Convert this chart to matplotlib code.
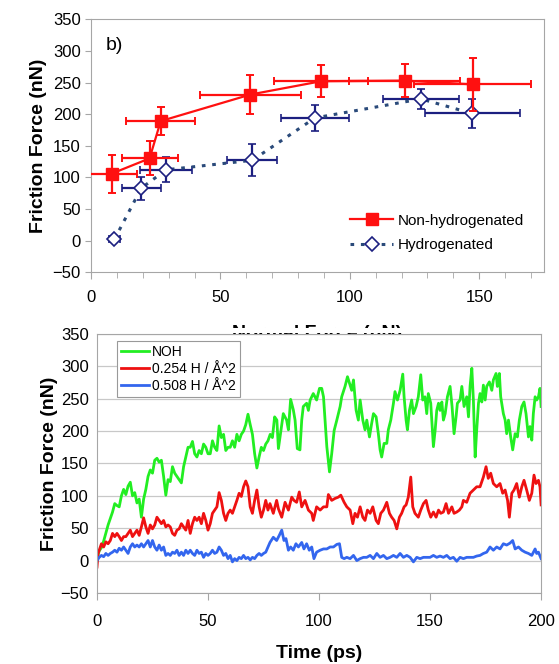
import matplotlib
matplotlib.use("Agg")
import matplotlib.pyplot as plt
from matplotlib.patches import Rectangle

plt.rcParams['font.family'] = ['Liberation Sans', 'DejaVu Sans']

# ---- top panel: friction vs normal force ----
nonh_x = [8.0, 22.6, 26.9, 61.6, 88.9, 121.2, 147.5]
nonh_y = [106, 130, 189, 231, 252, 253, 247]
nonh_xerr = [9.7, 10.8, 13.4, 19.7, 18.2, 21.5, 22.6]
nonh_yerr = [30, 27, 22, 31, 25, 26, 42]

hyd_x = [9.0, 19.4, 29.0, 62.3, 86.5, 127.5, 147.3]
hyd_y = [2, 83, 112, 127, 194, 224, 201]
hyd_xerr = [2.0, 7.5, 10.0, 9.7, 13.0, 14.5, 18.3]
hyd_yerr = [3, 18, 20, 25, 21, 16, 23]

# ---- bottom panel: friction vs time ----
t_noh = [0, 1, 2, 3, 5, 7, 8, 9, 10, 11, 12, 13, 14, 15, 16, 17, 18, 19, 20, 21,
         22, 23, 24, 25, 26, 27, 28, 29, 30, 31, 32, 33, 34, 35, 36, 37, 38, 39, 40,
         41, 42, 43, 44, 45, 46, 47, 48, 49, 50, 51, 52, 53, 54, 55, 56, 57, 58, 59,
         60, 61, 62, 63, 64, 65, 66, 67, 68, 69, 70, 71, 72, 73, 74, 75, 76, 77, 78,
         79, 80,
         81.0, 81.7, 83.9, 85.4, 86.2, 87.2, 88.4, 89.2, 90.2, 91.4, 92.2, 92.9,
         94.4, 95.2, 96.0, 97.4, 98.9, 100.2, 101.2, 102.0, 102.7, 103.5, 104.7,
         105.7, 106.8, 108.0, 109.5, 110.2, 111.7, 112.8, 113.7, 114.7, 115.5,
         116.7, 117.7, 118.5, 119.7, 120.7, 121.5, 122.7, 123.7, 124.5, 125.7,
         126.7, 127.5, 128.2, 129.3, 130.5, 131.2, 132.3, 133.5, 134.2, 135.3,
         136.5, 137.7, 138.3, 139.2, 139.8, 140.7, 141.7, 142.5, 143.7, 144.7,
         145.8, 146.7, 147.7, 148.5, 149.2, 150.3, 151.5, 152.3, 153.0, 153.8,
         154.5, 155.3, 156.0, 156.8, 157.8, 159.0, 159.9, 160.8, 161.7, 162.3,
         163.5, 164.3, 165.3, 166.5, 167.3, 168.0, 168.8, 169.5, 170.3, 171.0,
         171.8, 172.5, 173.3, 174.0, 174.8, 175.5, 176.7, 177.8, 178.5, 179.7,
         180.3, 181.2, 181.8, 183.0, 183.8, 184.5, 185.3, 186.3, 187.2, 188.3,
         189.3, 190.2, 191.3, 192.3, 193.2, 194.3, 195.0, 195.8, 196.5, 197.3,
         198.0, 198.8, 199.5, 200.0]
f_noh = [3, 15, 20, 30, 55, 75, 88, 85, 83, 100, 110, 102, 115, 121, 100, 105, 89, 95, 67, 95,
         110, 130, 140, 135, 155, 158, 152, 155, 130, 101, 125, 122, 145, 135, 130, 125, 120, 145, 160,
         175, 175, 184, 165, 160, 170, 165, 180, 175, 165, 165, 185, 175, 170, 208, 190, 195, 170, 175,
         175, 185, 175, 195, 185, 195, 200, 210, 226, 210, 195, 165, 143, 160, 175, 170, 180, 185, 195,
         190, 222,
         217, 173, 227, 217, 202, 249, 233, 217, 173, 171, 217, 238,
         243, 232, 248, 258, 248, 266, 266, 253, 217, 176, 137,
         165, 201, 217, 238, 253, 269, 284, 274, 263, 279,
         232, 217, 248, 217, 202, 217, 191, 212, 227, 222,
         196, 171, 160, 181, 181, 202, 217, 243, 261, 248,
         263, 288, 253, 217, 202, 232, 248, 227, 238, 253,
         287, 248, 253, 227, 258, 243, 176, 202, 232, 243,
         232, 245, 217, 227, 253, 269, 238, 196, 222, 243,
         248, 269, 238, 253, 222, 269, 297, 248, 160, 202,
         243, 258, 245, 271, 248, 269, 276, 263, 279, 289,
         269, 289, 253, 227, 217, 196, 217, 191, 171, 196,
         191, 217, 238, 245, 227, 191, 207, 186, 227, 253,
         248, 253, 266, 238]

t_h254 = [0, 0.5, 1, 2, 3, 4, 5, 6, 7, 8, 9, 10, 11, 12, 13, 14, 15, 16, 17, 18, 19, 20,
          21, 22, 23, 24, 25, 26, 27, 28, 29, 30, 31, 32, 33, 34, 35, 36, 37, 38, 39, 40,
          41, 42, 43, 44, 45, 46, 47, 48, 49, 50, 51, 52, 53, 54, 55, 56, 57, 58, 59, 60,
          61, 62, 63, 64, 65, 66, 67, 68, 69, 70, 71, 72, 73, 74, 75, 76, 77,
          77.9, 79.4, 80.9, 81.7, 83.2, 84.7, 86.2, 87.7, 88.7, 89.9, 91.1, 92.2,
          93.7, 95.2, 96.7, 97.4, 98.9, 100.5, 102.0, 103.5, 104.2, 105.7, 107.2,
          108.7, 109.8, 111.3, 112.5, 114.0, 115.2, 116.2, 117.3, 118.5, 119.7,
          120.7, 121.8, 123.0, 124.2, 125.7, 126.7, 127.8, 129.0, 130.5, 131.7,
          132.7, 133.8, 135.0, 136.2, 137.2, 138.3, 139.2, 140.2, 141.3, 142.2,
          143.2, 144.7, 145.8, 147.0, 148.2, 149.2, 150.3, 151.5, 152.7, 153.8,
          154.8, 156.0, 157.2, 158.3, 159.8, 160.8, 162.0, 163.2, 164.3, 165.0,
          166.5, 168.0, 169.5, 171.0, 172.5, 174.0, 175.2, 176.2, 177.3, 178.5,
          180.0, 181.5, 182.7, 183.8, 184.9, 185.7, 186.8, 187.8, 189.0, 190.2,
          191.3, 192.3, 193.5, 194.7, 195.8, 196.8, 197.7, 198.8, 199.5, 200.0]
f_h254 = [-10, 11, 16, 26, 21, 29, 26, 31, 42, 37, 42, 37, 31, 37, 37, 42, 47, 37, 42, 47, 39, 52,
          66, 52, 42, 55, 49, 55, 67, 62, 57, 62, 52, 55, 52, 42, 39, 47, 49, 57, 52, 47,
          62, 42, 57, 67, 62, 67, 57, 73, 62, 47, 57, 73, 78, 83, 105, 93, 73, 62, 73, 78,
          73, 83, 93, 104, 99, 114, 123, 114, 83, 73, 93, 109, 83, 67, 78, 93, 78,
          88, 73, 93, 80, 67, 90, 78, 98, 93, 90, 106, 83,
          93, 78, 73, 62, 83, 78, 83, 83, 102, 93, 96,
          98, 101, 90, 83, 78, 57, 73, 67, 83, 67,
          62, 78, 73, 83, 62, 57, 73, 78, 90, 73,
          67, 62, 49, 67, 73, 83, 86, 98, 129, 83,
          73, 67, 78, 88, 93, 78, 67, 75, 67, 78,
          73, 75, 88, 73, 83, 73, 75, 78, 83, 93,
          90, 104, 109, 114, 114, 129, 145, 127, 135, 119,
          114, 119, 104, 109, 93, 67, 104, 109, 119, 98,
          114, 124, 109, 93, 104, 132, 119, 124, 114, 86]

t_h508 = [0, 1, 2, 3, 4, 5, 6, 7, 8, 9, 10, 11, 12, 13, 14, 15, 16, 17, 18, 19, 20,
          21, 22, 23, 24, 25, 26, 27, 28, 29, 30, 31, 32, 33, 34, 35, 36, 37, 38, 39, 40,
          41, 42, 43, 44, 45, 46, 47, 48, 49, 50, 51, 52, 53, 54, 55, 56, 57, 58, 59, 60,
          61, 62, 63, 64, 65, 66, 67, 68, 69, 70, 71, 72, 73, 74, 75, 76, 77,
          77.9, 79.4, 80.9, 82.1, 83.2, 84.2, 85.1, 86.2, 87.2, 88.4, 89.6, 90.7,
          92.2, 93.2, 94.4, 95.6, 96.7, 97.7, 98.9, 100.5, 102.0, 103.5, 105.0,
          106.5, 108.0, 109.2, 110.2, 111.3, 112.5, 114.0, 115.5, 117.0, 118.5,
          120.0, 121.5, 123.0, 124.5, 126.0, 127.5, 129.0, 130.5, 132.0, 133.5,
          135.0, 136.5, 138.0, 139.5, 141.0, 142.5, 144.0, 145.5, 147.0, 148.5,
          150.0, 151.5, 153.0, 154.5, 156.0, 157.5, 159.0, 160.5, 162.0, 163.5,
          165.0, 166.5, 168.0, 169.5, 171.0, 172.5, 174.0, 175.5, 177.0, 178.5,
          180.0, 181.5, 183.0, 184.5, 186.0, 187.2, 188.3, 189.8, 191.3, 192.8,
          194.3, 195.8, 197.3, 198.0, 198.8, 200.0]
f_h508 = [0, 5, 8, 6, 11, 8, 11, 13, 16, 13, 19, 16, 21, 16, 11, 21, 26, 21, 24, 21, 26,
          21, 26, 31, 21, 31, 21, 16, 24, 16, 21, 8, 11, 8, 13, 11, 16, 8, 13, 8, 16,
          11, 16, 11, 8, 16, 11, 13, 5, 11, 8, 11, 16, 11, 13, 21, 16, 8, 11, 3, 8,
          -2, 3, 0, 5, 3, 8, 3, 5, 1, 5, 3, 8, 11, 8, 11, 13, 21,
          28, 36, 31, 39, 47, 31, 34, 16, 21, 16, 26, 21,
          28, 18, 26, 16, 21, 3, 13, 16, 18, 18, 21,
          21, 25, 26, 5, 3, 5, 3, 8, 0, 3,
          5, 5, 8, 3, 11, 5, 8, 3, 5, 8,
          5, 11, 5, 8, 5, -2, 5, 3, 5, 5,
          5, 8, 5, 7, 5, 8, 3, 5, -1, 5,
          3, 5, 5, 5, 7, 8, 11, 13, 21, 16,
          21, 18, 26, 24, 27, 31, 18, 21, 16, 13,
          11, 8, 18, 11, 13, 3]

fig = plt.figure(figsize=(5.59, 6.64), dpi=100)
spine_col = '#a6a6a6'

# top axes
ax1 = fig.add_axes([0.163, 0.590, 0.810, 0.381])
red = '#ff1010'
navy = '#1c1f80'
ax1.errorbar(nonh_x, nonh_y, xerr=nonh_xerr, yerr=nonh_yerr, color=red, ecolor=red,
             marker='s', markersize=9, mfc=red, mec=red, lw=1.6, elinewidth=1.6,
             capsize=3, capthick=1.4, label='Non-hydrogenated', zorder=3)
ax1.errorbar(hyd_x, hyd_y, xerr=hyd_xerr, yerr=hyd_yerr, color='#2a4a7a', ecolor=navy,
             marker='D', markersize=7, mfc='white', mec=navy, mew=1.2, lw=2.2,
             ls=(0, (1.2, 2.2)), elinewidth=1.6, capsize=3, capthick=1.4,
             label='Hydrogenated', zorder=2)
ax1.set_xlim(0, 175)
ax1.set_ylim(-50, 350)
ax1.set_xticks(range(0, 151, 50))
ax1.set_xticks(range(0, 171, 10), minor=True)
ax1.set_yticks(range(-50, 351, 50))
ax1.tick_params(axis='both', which='both', direction='out', colors=spine_col,
                labelcolor='black', labelsize=12)
ax1.tick_params(axis='x', which='major', length=5, pad=8)
ax1.tick_params(axis='x', which='minor', length=4)
ax1.tick_params(axis='y', length=4)
for s in ax1.spines.values():
    s.set_color(spine_col)
ax1.set_ylabel('Friction Force (nN)', fontsize=14, fontweight='bold', labelpad=4)
ax1.set_xlabel('Normal Force (nN)', fontsize=14, fontweight='bold', labelpad=14)
ax1.text(0.033, 0.895, 'b)', transform=ax1.transAxes, fontsize=14, va='center')
h, l = ax1.get_legend_handles_labels()
ax1.legend([hh[0] for hh in h], l, loc='lower right', frameon=False, fontsize=11,
           handlelength=2.8, handletextpad=0.3, borderaxespad=0.9, labelspacing=0.7)

# bottom axes
ax2 = fig.add_axes([0.1735, 0.107, 0.7945, 0.390])
ax2.set_facecolor('white')
ax2.plot(t_noh, f_noh, color='#22ee22', lw=2.0, label='NOH')
ax2.plot(t_h254, f_h254, color='#ee1111', lw=2.0, label='0.254 H / Å^2')
ax2.plot(t_h508, f_h508, color='#3366ee', lw=2.0, label='0.508 H / Å^2')
ax2.set_xlim(0, 200)
ax2.set_ylim(-50, 350)
ax2.set_xticks(range(0, 201, 50))
ax2.set_yticks(range(-50, 351, 50))
ax2.yaxis.grid(True, color='#c8c8c8', lw=0.9)
ax2.set_axisbelow(True)
ax2.tick_params(axis='both', direction='out', colors=spine_col, labelcolor='black',
                labelsize=12)
ax2.tick_params(axis='x', length=5, pad=10)
ax2.tick_params(axis='y', length=0, pad=6)
for s in ax2.spines.values():
    s.set_color(spine_col)
ax2.set_ylabel('Friction Force (nN)', fontsize=14, fontweight='bold', labelpad=2)
ax2.set_xlabel('Time (ps)', fontsize=14, fontweight='bold', labelpad=12)
leg = ax2.legend(loc='upper left', fontsize=10, handlelength=2.0, handletextpad=0.2,
                 borderaxespad=0.5, borderpad=0.3, labelspacing=0.2, fancybox=False,
                 framealpha=1, bbox_to_anchor=(0.03, 1.0))
leg.get_frame().set_edgecolor('#999999')
leg.get_frame().set_linewidth(0.8)

# the lower panel hides most of the upper x label
fig.patches.append(Rectangle((200 / 559, 1 - 333 / 664), 240 / 559, 5 / 664,
                             transform=fig.transFigure, facecolor='white',
                             edgecolor='none', zorder=0.5))

plt.savefig('out.png', dpi=100)
